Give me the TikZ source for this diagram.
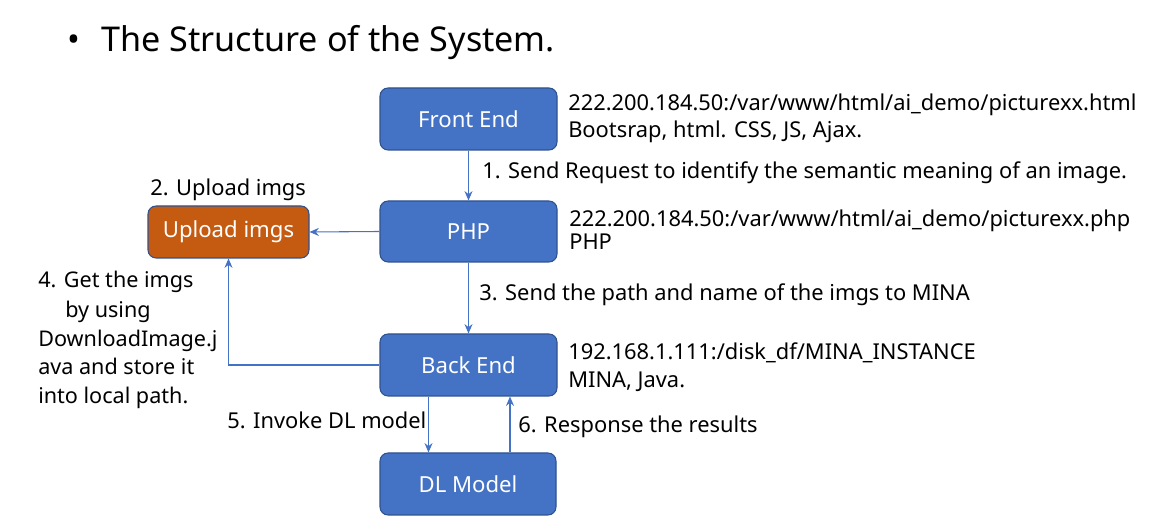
\documentclass[tikz,border=0pt]{standalone}
\usepackage{fontspec}
\setmainfont{Noto Sans}
\usetikzlibrary{arrows.meta}
\definecolor{boxblue}{HTML}{4472C4}
\definecolor{boxedge}{HTML}{2F528F}
\definecolor{boxorange}{HTML}{C55A11}
\definecolor{arrowblue}{HTML}{4472C4}
\tikzset{
  block/.style={draw=boxedge, line width=0.8pt, rounded corners=6pt, text=white, font=\fontsize{16.6}{19}\selectfont, inner sep=0pt},
  bluebox/.style={block, fill=boxblue},
  orangebox/.style={block, fill=boxorange},
  lbl/.style={anchor=base west, inner sep=0pt, font=\fontsize{16.4}{19}\selectfont, text=black},
  sidelbl/.style={anchor=base west, inner sep=0pt, font=\fontsize{16.2}{19}\selectfont, text=black},
  conn/.style={draw=arrowblue, line width=0.8pt, -{Stealth[length=7pt,width=6pt]}},
}
\begin{document}
\begin{tikzpicture}[x=0.75pt,y=-0.75pt]
\useasboundingbox (0,0) rectangle (1175,523);
% title
\node[anchor=base west, inner sep=0pt, font=\fontsize{25.6}{30}\selectfont] (bullet) at (67,52) {•};
\node[anchor=base west, inner sep=0pt, font=\fontsize{25.6}{30}\selectfont] (title) at (101,52) {The Structure of the System.};
% boxes
\node[bluebox, minimum width=177*0.75pt, minimum height=62*0.75pt] (fe) at (468.5,119) {Front End};
\node[bluebox, minimum width=177*0.75pt, minimum height=61*0.75pt] (php) at (468.5,231.5) {PHP};
\node[orangebox, minimum width=161*0.75pt, minimum height=52*0.75pt] (up) at (228.5,232) {Upload imgs};
\node[bluebox, minimum width=177*0.75pt, minimum height=62*0.75pt] (be) at (468.5,365) {Back End};
\node[bluebox, minimum width=176*0.75pt, minimum height=62*0.75pt] (dl) at (468,484) {DL Model};
% connectors
\draw[conn] (fe.south) -- (php.north);
\draw[conn] (php.west) -- (up.east);
\draw[conn] (php.south) -- (be.north);
\draw[conn] (be.west) -| (up.south);
\draw[conn] ([xshift=-40*0.75pt]be.south) -- ([xshift=-40*0.75pt]be.south |- dl.north);
\draw[conn] ([xshift=42*0.75pt]dl.north) -- ([xshift=42*0.75pt]dl.north |- be.south);
% labels
\node[lbl] (t1a) at (568,111) {222.200.184.50:/var/www/html/ai\_demo/picturexx.html};
\node[lbl] (t1b) at (568,138) {Bootsrap, html. CSS, JS, Ajax.};
\node[lbl] (l1) at (482,179) {1. Send Request to identify the semantic meaning of an image.};
\node[lbl] (l2) at (150,196) {2. Upload imgs};
\node[lbl] (t2a) at (569,227) {222.200.184.50:/var/www/html/ai\_demo/picturexx.php};
\node[lbl] (t2b) at (569,250) {PHP};
\node[lbl] (l3) at (479,301) {3. Send the path and name of the imgs to MINA};
\node[sidelbl] (l4a) at (38,288) {4. Get the imgs};
\node[sidelbl] (l4b) at (65,318) {by using};
\node[sidelbl] (l4c) at (38,347) {DownloadImage.j};
\node[sidelbl] (l4d) at (38,375) {ava and store it};
\node[sidelbl] (l4e) at (38,404) {into local path.};
\node[lbl] (t3a) at (568,360) {192.168.1.111:/disk\_df/MINA\_INSTANCE};
\node[lbl] (t3b) at (568,388) {MINA, Java.};
\node[lbl] (l5) at (227,429) {5. Invoke DL model};
\node[lbl] (l6) at (518,433) {6. Response the results};
\end{tikzpicture}
\end{document}
